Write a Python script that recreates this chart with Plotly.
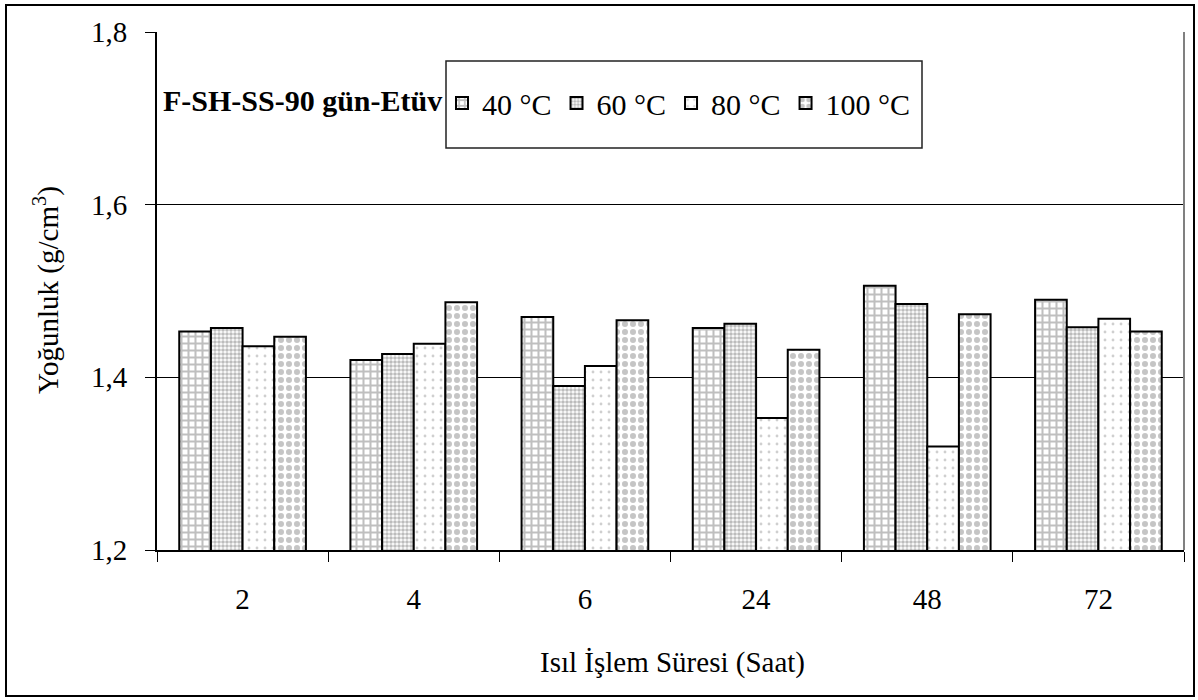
import plotly.graph_objects as go

# Heat-treatment durations (hours) and oven temperatures
sureler = ["2", "4", "6", "24", "48", "72"]
sicakliklar = ["40 °C", "60 °C", "80 °C", "100 °C"]

# Density values (g/cm3) per temperature series
yogunluk_40 = [1.453, 1.420, 1.470, 1.457, 1.506, 1.490]
yogunluk_60 = [1.457, 1.427, 1.390, 1.462, 1.485, 1.458]
yogunluk_80 = [1.436, 1.439, 1.413, 1.353, 1.320, 1.468]
yogunluk_100 = [1.447, 1.487, 1.466, 1.432, 1.473, 1.453]

y_ticks = [1.2, 1.4, 1.6, 1.8]

FONT = "Liberation Serif"

seriler = [yogunluk_40, yogunluk_60, yogunluk_80, yogunluk_100]
desenler = [
    dict(shape="+", fgcolor="#7f7f7f", bgcolor="white", size=7, solidity=0.5),
    dict(shape=".", fgcolor="#7a7a7a", bgcolor="white", size=4, solidity=0.65),
    dict(shape=".", fgcolor="#a0a0a0", bgcolor="white", size=8, solidity=0.1),
    dict(shape=".", fgcolor="#8c8c8c", bgcolor="white", size=8, solidity=0.45),
]

fig = go.Figure()
for ad, degerler, desen in zip(sicakliklar, seriler, desenler):
    fig.add_trace(go.Bar(
        x=sureler, y=degerler, name=ad,
        marker=dict(color="white", pattern=desen,
                    line=dict(color="black", width=2)),
    ))

W, H = 1198, 700
L, R, T, B = 157, 1184, 32, 550


def px_x(x):
    return (x - L) / (R - L)


def px_y(y):
    return (B - y) / (B - T)


fig.update_layout(
    width=W, height=H,
    margin=dict(l=L, r=W - R, t=T, b=H - B),
    paper_bgcolor="white", plot_bgcolor="white",
    barmode="group", bargap=0.26, bargroupgap=0,
    separators=",.",
    font=dict(family=FONT, size=29, color="black"),
    showlegend=True,
    legend=dict(
        orientation="h", x=px_x(442), xanchor="left",
        y=px_y(103), yanchor="middle",
        font=dict(family=FONT, size=30, color="black"),
        bgcolor="rgba(0,0,0,0)", borderwidth=0,
    ),
)

fig.update_xaxes(
    type="category", showgrid=False,
    showline=True, linecolor="black", linewidth=2,
    ticks="outside", tickson="boundaries", ticklen=10, tickcolor="black",
    tickwidth=1, ticklabelstandoff=22,
    tickfont=dict(family=FONT, size=29, color="black"),
)
fig.update_yaxes(
    range=[1.2, 1.8], tickvals=y_ticks, tickformat=".1f",
    showgrid=True, gridcolor="black", gridwidth=1,
    showline=True, linecolor="black", linewidth=2,
    ticks="outside", ticklen=10, tickcolor="black", tickwidth=1,
    ticklabelstandoff=12, zeroline=False,
    tickfont=dict(family=FONT, size=29, color="black"),
)

fig.update_layout(
    annotations=[
        dict(text="<b>F-SH-SS-90 gün-Etüv</b>", xref="paper", yref="paper",
             x=px_x(444), y=px_y(101), xanchor="right", yanchor="middle",
             showarrow=False, font=dict(family=FONT, size=30, color="black")),
        dict(text="Yoğunluk (g/cm<sup>3</sup>)", xref="paper", yref="paper",
             x=px_x(46), y=px_y(290), xanchor="center", yanchor="middle",
             textangle=-90, showarrow=False,
             font=dict(family=FONT, size=29, color="black")),
        dict(text="Isıl İşlem Süresi (Saat)", xref="paper", yref="paper",
             x=px_x(672), y=px_y(662), xanchor="center", yanchor="middle",
             showarrow=False, font=dict(family=FONT, size=29, color="black")),
    ],
    shapes=[
        # legend frame
        dict(type="rect", xref="paper", yref="paper",
             x0=px_x(446), x1=px_x(922), y0=px_y(148), y1=px_y(61),
             line=dict(color="#222222", width=1.5)),
        # right edge of the plot area
        dict(type="line", xref="paper", yref="paper",
             x0=1, x1=1, y0=0, y1=1, line=dict(color="#808080", width=2)),
        # outer chart frame
        dict(type="rect", xref="paper", yref="paper",
             x0=px_x(6), x1=px_x(1194), y0=px_y(696), y1=px_y(5),
             line=dict(color="black", width=2)),
    ],
)

fig.write_html("out.html")
